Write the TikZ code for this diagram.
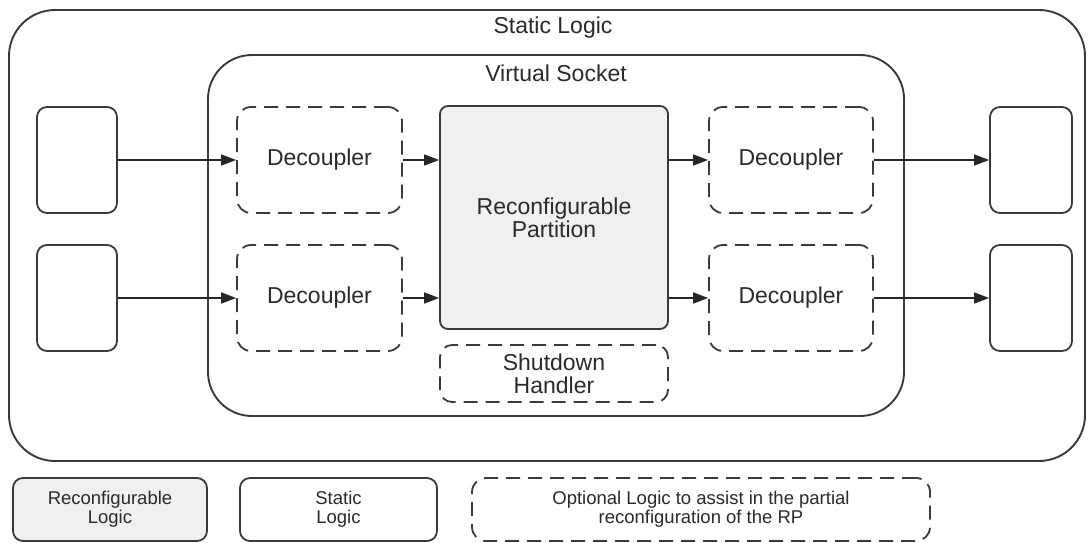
\documentclass[tikz,border=0pt]{standalone}
\usepackage{fontspec}
\setmainfont{Liberation Sans}
\usetikzlibrary{arrows.meta}
\definecolor{edge}{HTML}{3A3A3A}
\definecolor{txt}{HTML}{2A2A2A}
\definecolor{rpfill}{HTML}{F0F0F0}
\begin{document}
\begin{tikzpicture}[x=1pt,y=-1pt,
  box/.style={draw=edge,line width=1.8pt,inner sep=0pt,align=center,text=txt,
    font=\fontsize{23}{23}\selectfont},
  solidbox/.style={box,rounded corners=10pt},
  optbox/.style={box,rounded corners=14pt,dash pattern=on 14pt off 8pt},
  region/.style={box,line width=1.9pt},
  legbox/.style={box,rounded corners=10pt,font=\fontsize{18.5}{19}\selectfont},
  title/.style={text=txt,font=\fontsize{23}{23}\selectfont,inner sep=0pt},
  link/.style={draw=black!85,line width=1.7pt,-{Triangle[length=15pt,width=11pt]}}]
\useasboundingbox (0,0) rectangle (1092,543);

% enclosing regions
\node[region,rounded corners=46pt,minimum width=1076pt,minimum height=451pt] (static) at (547,235.5) {};
\node[title] (statict) at (553,28) {Static Logic};
\node[region,rounded corners=44pt,minimum width=696pt,minimum height=361pt] (socket) at (556,235.5) {};
\node[title] (sockett) at (556,73) {Virtual Socket};

% inputs and outputs in the static logic
\node[solidbox,minimum width=80pt,minimum height=106pt] (in1) at (77,160) {};
\node[solidbox,minimum width=80pt,minimum height=106pt] (in2) at (77,298) {};
\node[solidbox,minimum width=82pt,minimum height=106pt] (out1) at (1031,160) {};
\node[solidbox,minimum width=82pt,minimum height=106pt] (out2) at (1031,298) {};

% decouplers
\node[optbox,minimum width=165pt,minimum height=106pt] (dl1) at (319.5,160) {Decoupler};
\node[optbox,minimum width=165pt,minimum height=106pt] (dl2) at (319.5,298) {Decoupler};
\node[optbox,minimum width=164pt,minimum height=106pt] (dr1) at (791,160) {Decoupler};
\node[optbox,minimum width=164pt,minimum height=106pt] (dr2) at (791,298) {Decoupler};

% reconfigurable partition and shutdown handler
\node[box,rounded corners=8pt,fill=rpfill,minimum width=228pt,minimum height=223pt] (rp) at (554,217.5) {Reconfigurable\\Partition};
\node[optbox,rounded corners=12pt,minimum width=228pt,minimum height=57pt] (sh) at (554,373.5) {Shutdown\\Handler};

% data paths
\draw[link] (in1.east) -- (dl1.west);
\draw[link] (in2.east) -- (dl2.west);
\draw[link] (dl1.east) -- (dl1.east -| rp.west);
\draw[link] (dl2.east) -- (dl2.east -| rp.west);
\draw[link] (dr1.west -| rp.east) -- (dr1.west);
\draw[link] (dr2.west -| rp.east) -- (dr2.west);
\draw[link] (dr1.east) -- (out1.west);
\draw[link] (dr2.east) -- (out2.west);

% legend
\node[legbox,fill=rpfill,minimum width=194pt,minimum height=63pt] (legrl) at (110,509.5) {Reconfigurable\\Logic};
\node[legbox,minimum width=197pt,minimum height=63pt] (legsl) at (338.5,509.5) {Static\\Logic};
\node[legbox,rounded corners=14pt,dash pattern=on 14pt off 8pt,minimum width=458pt,minimum height=63pt] (legopt) at (701,509.5) {Optional Logic to assist in the partial\\reconfiguration of the RP};
\end{tikzpicture}
\end{document}
